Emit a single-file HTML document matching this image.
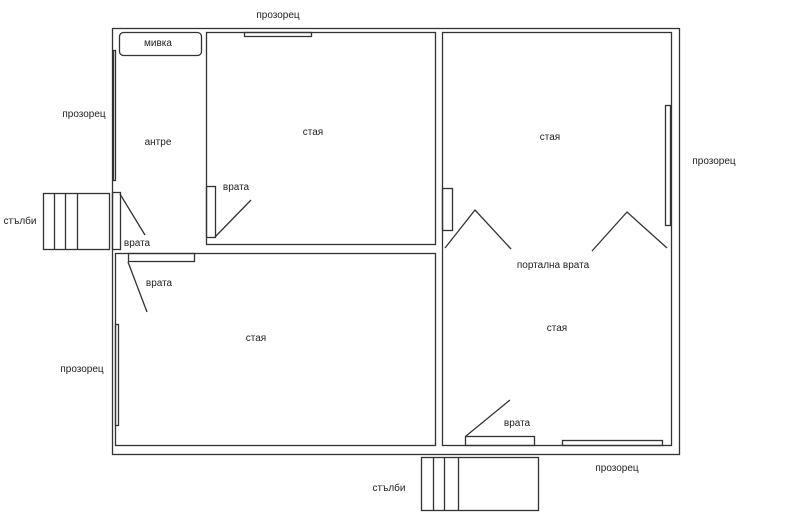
<!DOCTYPE html>
<html><head><meta charset="utf-8"><style>
html,body{margin:0;padding:0;background:#fff;width:800px;height:524px;overflow:hidden}
svg text{font-family:"Liberation Sans",sans-serif;font-size:10px;fill:#222;text-anchor:middle}
</style></head><body>
<svg width="800" height="524" viewBox="0 0 800 524" xmlns="http://www.w3.org/2000/svg">
<g fill="none" stroke="#333" stroke-width="1.3">
<rect x="112.5" y="28.5" width="567" height="426"/>
<rect x="206.5" y="32.5" width="229" height="212"/>
<rect x="442.5" y="32.5" width="229" height="413"/>
<rect x="115.5" y="253.5" width="320" height="192"/>
<rect x="119.5" y="32.5" width="82" height="23" rx="4"/>
<rect x="113.5" y="50.5" width="2" height="130"/>
<rect x="43.5" y="193.5" width="66" height="56"/>
<line x1="54.5" y1="193" x2="54.5" y2="249"/>
<line x1="65.5" y1="193" x2="65.5" y2="249"/>
<line x1="77.5" y1="193" x2="77.5" y2="249"/>
<rect x="112.5" y="192.5" width="8" height="57"/>
<line x1="120" y1="194" x2="145" y2="235"/>
<rect x="128.5" y="253.5" width="66" height="8"/>
<line x1="128" y1="262" x2="147" y2="312"/>
<rect x="206.5" y="186.5" width="9" height="51"/>
<line x1="215" y1="237" x2="251" y2="200"/>
<rect x="244.5" y="32.5" width="67" height="4"/>
<rect x="115.5" y="324.5" width="3" height="101"/>
<rect x="442.5" y="188.5" width="10" height="42"/>
<polyline points="445,248 475,210 511,249"/>
<polyline points="592,251 627,212 667,248"/>
<rect x="665.5" y="105.5" width="5" height="120"/>
<rect x="465.5" y="436.5" width="69" height="9"/>
<line x1="466" y1="436" x2="510" y2="400"/>
<rect x="562.5" y="440.5" width="100" height="5"/>
<rect x="421.5" y="457.5" width="117" height="53"/>
<line x1="433.5" y1="457" x2="433.5" y2="510"/>
<line x1="444.5" y1="457" x2="444.5" y2="510"/>
<line x1="458.5" y1="457" x2="458.5" y2="510"/>
</g>
<text x="278" y="18">прозорец</text>
<text x="158" y="46">мивка</text>
<text x="84" y="117">прозорец</text>
<text x="158" y="145">антре</text>
<text x="313" y="135">стая</text>
<text x="236" y="190">врата</text>
<text x="20" y="224">стълби</text>
<text x="137" y="246">врата</text>
<text x="159" y="286">врата</text>
<text x="256" y="341">стая</text>
<text x="82" y="372">прозорец</text>
<text x="550" y="140">стая</text>
<text x="714" y="164">прозорец</text>
<text x="553" y="268">портална врата</text>
<text x="557" y="331">стая</text>
<text x="517" y="426">врата</text>
<text x="617" y="471">прозорец</text>
<text x="389" y="491">стълби</text>
</svg>
</body></html>
